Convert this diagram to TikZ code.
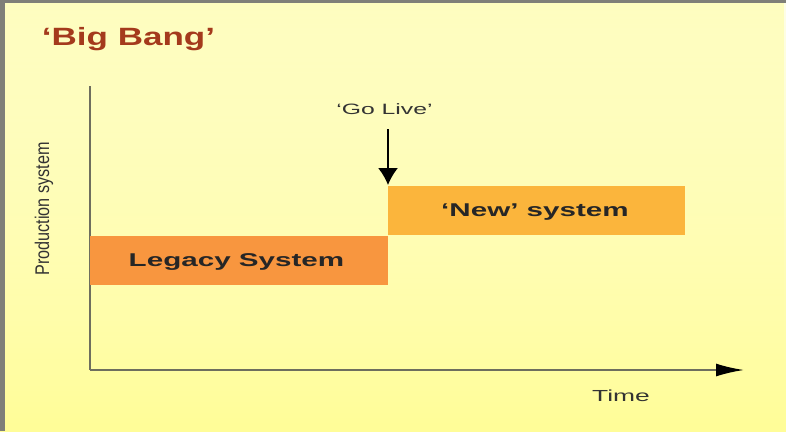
\documentclass[tikz,border=0pt]{standalone}
\usepackage{fontspec}
\setmainfont{Liberation Sans}
\usetikzlibrary{arrows.meta,fadings}
\definecolor{bgpale}{HTML}{FEFEE8}
\definecolor{bgyellow}{HTML}{FFFD98}
\definecolor{legacyorange}{HTML}{F8963F}
\definecolor{neworange}{HTML}{FBB53C}
\definecolor{titlered}{HTML}{A43A1C}
\definecolor{axisgray}{HTML}{6E6E5E}
\definecolor{framegray}{HTML}{7F7F78}
\tikzset{
  barlabel/.style={anchor=base, inner sep=0pt, xscale=1.6, font=\bfseries\fontsize{18.5}{20}\selectfont, text=black!85},
  plainlabel/.style={anchor=base, inner sep=0pt, xscale=1.65, text=black!80},
  axis/.style={draw=axisgray, line width=2pt, -{Latex[length=28pt,width=13pt,color=black]}},
  golive/.style={draw=black, line width=1.6pt, -{Latex[length=17pt,width=20pt]}},
}
\begin{document}
\begin{tikzpicture}[x=1pt,y=-1pt]
  % background with soft gradient and grey frame edges
  \shade[left color=bgpale, right color=bgyellow, shading angle=0] (0,0) rectangle (786,431);
  \fill[bgyellow, opacity=0.5, path fading=south] (0,0) rectangle (786,431);
  \useasboundingbox (0,0) rectangle (786,431);
  \fill[framegray] (0,0) rectangle (5,431);
  \fill[framegray] (0,0) rectangle (786,2.5);

  % title
  \node[anchor=base, inner sep=0pt, xscale=1.4, font=\bfseries\fontsize{25}{28}\selectfont, text=titlered] (title) at (128.5,45) {‘Big Bang’};

  % axes
  \coordinate (origin) at (90,370);
  \coordinate (ytop) at (90,86);
  \coordinate (xend) at (744,370);
  \draw[draw=axisgray, line width=2pt] (ytop) -- (origin);
  \draw[axis] (origin) -- (xend);

  % system bars
  \fill[legacyorange] (90,236) rectangle (388,285);
  \node[barlabel] (legacy) at (236.5,266) {Legacy System};
  \fill[neworange] (388,186) rectangle (685,235);
  \node[barlabel] (new) at (535,216) {‘New’ system};

  % go-live marker
  \node[plainlabel, font=\fontsize{15}{17}\selectfont] (golabel) at (384.5,114) {‘Go Live’};
  \coordinate (gostart) at (388,129);
  \coordinate (gotip) at (388,185);
  \draw[golive] (gostart) -- (gotip);

  % axis labels
  \node[plainlabel, font=\fontsize{16}{18}\selectfont] (time) at (621,401.5) {Time};
  \node[rotate=90, xscale=0.9, yscale=1.1, inner sep=0pt, font=\fontsize{18}{20}\selectfont, text=black!80] (ylabel) at (44,209) {Production system};
\end{tikzpicture}
\end{document}
